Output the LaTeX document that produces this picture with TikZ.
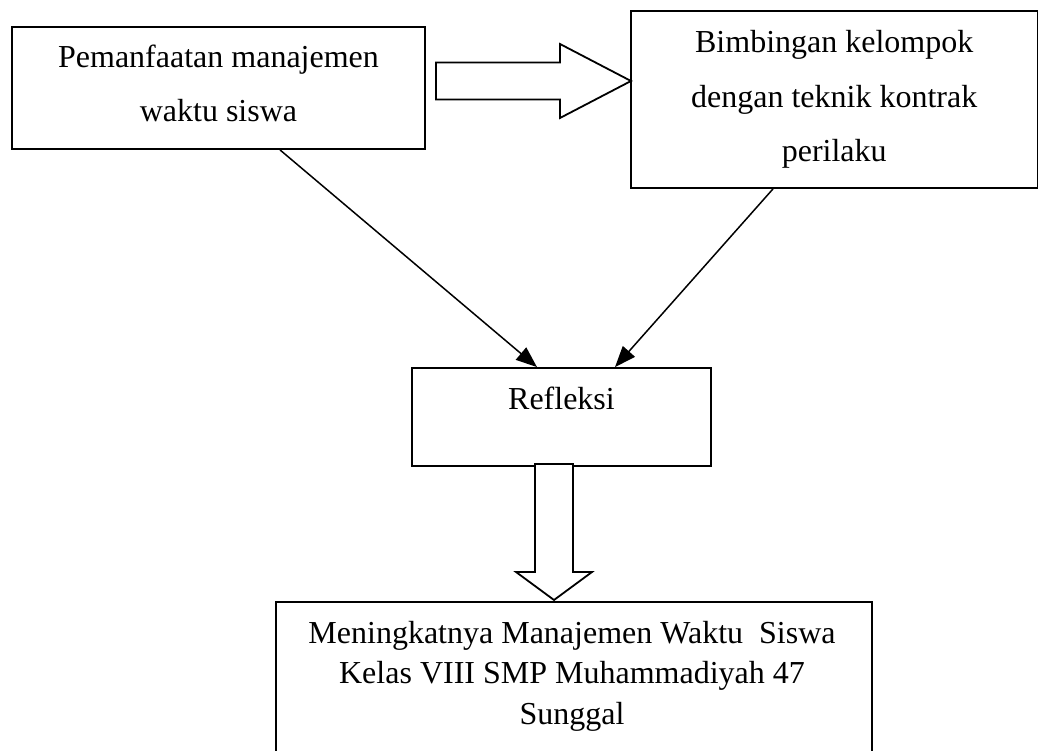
\documentclass[tikz,border=0pt]{standalone}
\usepackage{fontspec}
\setmainfont{Liberation Serif}
\usetikzlibrary{arrows.meta,calc}
\begin{document}
\begin{tikzpicture}[x=1pt,y=-1pt,
  box/.style={draw, line width=1.8pt, rectangle, inner sep=0pt, align=center, font=\fontsize{32}{54.5}\selectfont},
  txt/.style={inner sep=0pt, align=center},
  conn/.style={line width=1.5pt, -{Triangle[length=21pt,width=16pt]}},
  blockarrow/.style={draw, line width=1.8pt, fill=white, line join=miter}]
\useasboundingbox (0,0) rectangle (1039,751);
\node[box, minimum width=413pt, minimum height=122pt] (b1) at (218.5,88) {};
\node[txt, anchor=base, font=\fontsize{32}{54}\selectfont] (b1txt) at (218.5,122) {Pemanfaatan manajemen\\waktu siswa};
\node[box, minimum width=406.5pt, minimum height=177pt] (b2) at (834.25,99.5) {Bimbingan kelompok\\dengan teknik kontrak\\perilaku};
\node[box, minimum width=299pt, minimum height=98pt] (refl) at (561.5,417) {};
\node[txt, anchor=base, font=\fontsize{32}{38}\selectfont] (refltxt) at (561.5,409) {Refleksi};
\node[box, minimum width=596pt, minimum height=220pt, anchor=north] (b4) at (574,601) {};
\node[txt, anchor=base, font=\fontsize{32}{40.5}\selectfont] (b4txt) at (572,724) {Meningkatnya Manajemen Waktu\ \ Siswa\\Kelas VIII SMP Muhammadiyah 47\\Sunggal};
% block arrow right
\coordinate (rtail) at (436,81);
\coordinate (rtip) at (631,81);
\draw[blockarrow] ($(rtail)+(0,-18.5)$) -- ($(rtip)+(-71,-18.5)$) -- ($(rtip)+(-71,-37)$) -- (rtip) -- ($(rtip)+(-71,37)$) -- ($(rtip)+(-71,18.5)$) -- ($(rtail)+(0,18.5)$) -- cycle;
% block arrow down
\coordinate (dtail) at (554,464);
\coordinate (dtip) at (554,600);
\draw[blockarrow] ($(dtail)+(-19,0)$) -- ($(dtail)+(19,0)$) -- ($(dtip)+(19,-28)$) -- ($(dtip)+(38,-28)$) -- (dtip) -- ($(dtip)+(-38,-28)$) -- ($(dtip)+(-19,-28)$) -- cycle;
% connectors
\draw[conn] ([xshift=61.5pt]b1.south) -- ([xshift=-24.5pt]refl.north);
\draw[conn] ([xshift=-61.25pt]b2.south) -- ([xshift=53.5pt]refl.north);
\end{tikzpicture}
\end{document}
